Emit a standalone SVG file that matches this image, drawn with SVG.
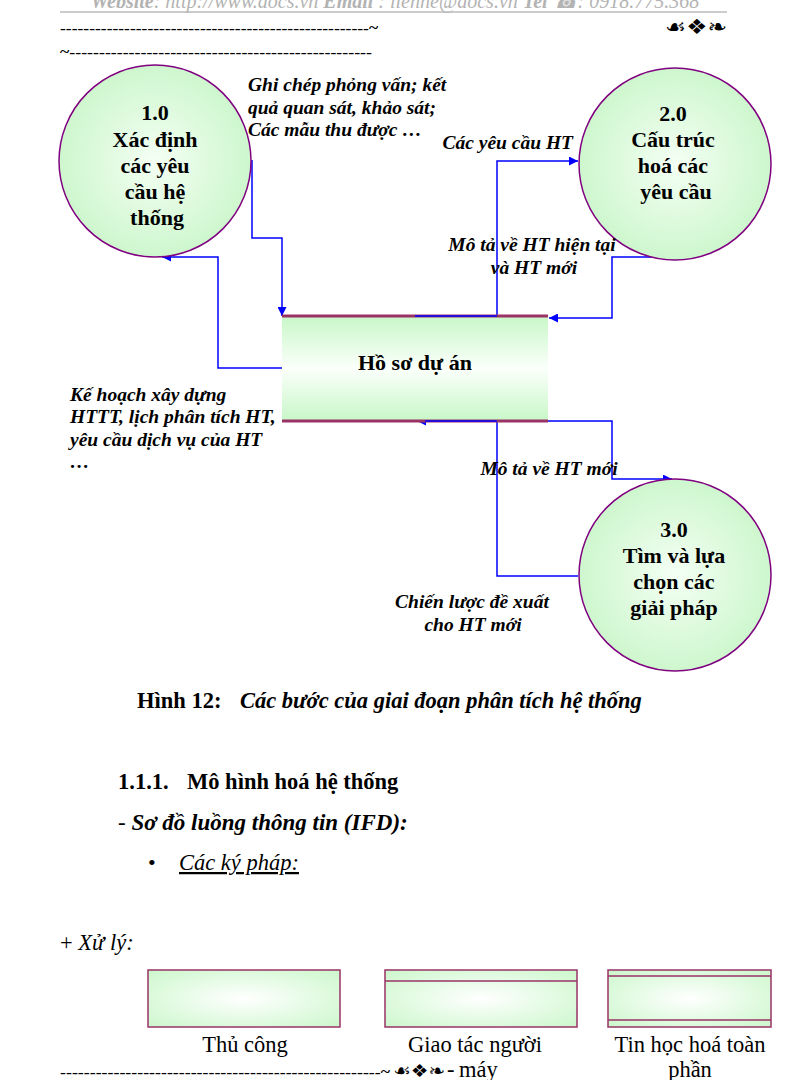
<svg xmlns="http://www.w3.org/2000/svg" width="793" height="1080" viewBox="0 0 793 1080">
<defs>
<radialGradient id="gc" cx="0.5" cy="0.5" r="0.6">
<stop offset="0" stop-color="#f4fff4"/>
<stop offset="1" stop-color="#c6f5c6"/>
</radialGradient>
<linearGradient id="gs" x1="0" y1="0" x2="0" y2="1">
<stop offset="0" stop-color="#c8f7c8"/>
<stop offset="0.5" stop-color="#fbfffb"/>
<stop offset="1" stop-color="#c8f7c8"/>
</linearGradient>
<radialGradient id="gb" cx="0.5" cy="0.5" r="0.7">
<stop offset="0" stop-color="#ffffff"/>
<stop offset="1" stop-color="#ccf7cc"/>
</radialGradient>
<marker id="ah" viewBox="0 0 10 10" refX="10" refY="5" markerWidth="9" markerHeight="9" markerUnits="userSpaceOnUse" orient="auto">
<path d="M0,0 L10,5 L0,10 z" fill="#0000ff"/>
</marker>
<style>
.t{font-family:"Liberation Serif","Times New Roman",serif;fill:#000}
.nb{font-size:22px;font-weight:bold;text-anchor:middle}
.lb{font-size:19.5px;font-weight:bold;font-style:italic}
.circ{fill:url(#gc);stroke:#800080;stroke-width:1.5}
.cn{fill:none;stroke:#0000ff;stroke-width:1.5}
.box{fill:url(#gb);stroke:#993366;stroke-width:1.5}
.rule{stroke:#993366;stroke-width:1.5}
.bt{font-size:22.5px}
</style>
</defs>
<rect width="793" height="1080" fill="#fff"/>

<g id="header">
<text class="t" x="395" y="8" text-anchor="middle" font-size="20" font-style="italic" style="fill:#b3b3b3"><tspan font-weight="bold">Website</tspan>: http://www.docs.vn <tspan font-weight="bold">Email</tspan> : lienhe@docs.vn <tspan font-weight="bold">Tel</tspan> ☎: 0918.775.368</text>
<line x1="60" y1="12" x2="727" y2="12" stroke="#bbbbbb" stroke-width="1.5"/>
<text class="t" x="60" y="33" font-size="14" font-weight="bold" textLength="318" lengthAdjust="spacingAndGlyphs">-----------------------------------------------------~</text>
<text x="727" y="34" text-anchor="end" font-family="DejaVu Sans, sans-serif" font-size="21" font-weight="bold" textLength="62" lengthAdjust="spacingAndGlyphs">☙❖❧</text>
<text class="t" x="60" y="57" font-size="14" font-weight="bold" textLength="312" lengthAdjust="spacingAndGlyphs">~---------------------------------------------------</text>
</g>

<g id="connectors">
<polyline class="cn" points="252,160 252,238 282,238 282,316" marker-end="url(#ah)"/>
<polyline class="cn" points="282,368 218,368 218,257 162,257" marker-end="url(#ah)"/>
<polyline class="cn" points="415,316 497,316 497,161 578,161" marker-end="url(#ah)"/>
<polyline class="cn" points="672,257 612,257 612,318 549,318" marker-end="url(#ah)"/>
<polyline class="cn" points="548,421 612,421 612,479 672,479" marker-end="url(#ah)"/>
<polyline class="cn" points="578,576 497,576 497,421 417,421" marker-end="url(#ah)"/>
</g>

<g id="p1">
<circle class="circ" cx="155" cy="161" r="96"/>
<text class="t nb" x="155" y="120">1.0</text>
<text class="t nb" x="155" y="147">Xác định</text>
<text class="t nb" x="155" y="173">các yêu</text>
<text class="t nb" x="155" y="199">cầu hệ</text>
<text class="t nb" x="157" y="225">thống</text>
</g>

<g id="p2">
<circle class="circ" cx="675" cy="164" r="96"/>
<text class="t nb" x="673" y="121">2.0</text>
<text class="t nb" x="673" y="147">Cấu trúc</text>
<text class="t nb" x="673" y="173">hoá các</text>
<text class="t nb" x="676" y="199">yêu cầu</text>
</g>

<g id="p3">
<circle class="circ" cx="675" cy="575" r="96"/>
<text class="t nb" x="674" y="537">3.0</text>
<text class="t nb" x="674" y="563">Tìm và lựa</text>
<text class="t nb" x="674" y="589">chọn các</text>
<text class="t nb" x="674" y="615">giải pháp</text>
</g>

<g id="store">
<rect x="282" y="316" width="266" height="105" fill="url(#gs)"/>
<line x1="282" y1="316" x2="548" y2="316" stroke="#993366" stroke-width="3"/>
<line x1="282" y1="421" x2="548" y2="421" stroke="#993366" stroke-width="3"/>
<line x1="415" y1="316" x2="497" y2="316" stroke="#0000ff" stroke-width="1.5"/>
<line x1="425" y1="421" x2="497" y2="421" stroke="#0000ff" stroke-width="1.5"/>
<text class="t nb" x="415" y="370">Hồ sơ dự án</text>
</g>

<g id="labels">
<text class="t lb" x="248" y="91">Ghi chép phỏng vấn; kết</text>
<text class="t lb" x="248" y="114">quả quan sát, khảo sát;</text>
<text class="t lb" x="248" y="136">Các mẫu thu được …</text>
<text class="t lb" x="573" y="149" text-anchor="end">Các yêu cầu HT</text>
<text class="t lb" x="532" y="251" text-anchor="middle">Mô tả về HT hiện tại</text>
<text class="t lb" x="534" y="274" text-anchor="middle">và HT mới</text>
<text class="t lb" x="70" y="401">Kế hoạch xây dựng</text>
<text class="t lb" x="70" y="423">HTTT, lịch phân tích HT,</text>
<text class="t lb" x="70" y="446">yêu cầu dịch vụ của HT</text>
<text class="t lb" x="70" y="468">…</text>
<text class="t lb" x="549" y="475" text-anchor="middle">Mô tả về HT mới</text>
<text class="t lb" x="472" y="608" text-anchor="middle">Chiến lược đề xuất</text>
<text class="t lb" x="473" y="631" text-anchor="middle">cho HT mới</text>
</g>

<g id="text-body">
<text class="t" x="137" y="708" font-size="22.5" font-weight="bold">Hình 12:<tspan x="240" font-style="italic">Các bước của giai đoạn phân tích hệ thống</tspan></text>
<text class="t" x="118" y="789" font-size="22.5" font-weight="bold">1.1.1.<tspan x="187">Mô hình hoá hệ thống</tspan></text>
<text class="t" x="118" y="830" font-size="23"><tspan>- </tspan><tspan font-weight="bold" font-style="italic">Sơ đồ luồng thông tin (IFD):</tspan></text>
<text class="t" x="148" y="870" font-size="22">•</text>
<text class="t" x="179" y="870" font-size="22.5" font-style="italic" text-decoration="underline">Các ký pháp:</text>
<text class="t" x="60" y="950" font-size="22.5">+ <tspan font-style="italic">Xử lý:</tspan></text>
</g>

<g id="sym1">
<rect class="box" x="148" y="970" width="192" height="57"/>
<text class="t bt" x="245" y="1052" text-anchor="middle">Thủ công</text>
</g>
<g id="sym2">
<rect class="box" x="385" y="970" width="192" height="57"/>
<line class="rule" x1="385" y1="981" x2="577" y2="981"/>
<text class="t bt" x="475" y="1052" text-anchor="middle">Giao tác người</text>
<text class="t bt" x="459" y="1077">máy</text>
</g>
<g id="sym3">
<rect class="box" x="608" y="970" width="163" height="57"/>
<line class="rule" x1="608" y1="976" x2="771" y2="976"/>
<line class="rule" x1="608" y1="1020" x2="771" y2="1020"/>
<text class="t bt" x="690" y="1052" text-anchor="middle">Tin học hoá toàn</text>
<text class="t bt" x="690" y="1077" text-anchor="middle">phần</text>
</g>

<g id="footer">
<text class="t" x="60" y="1077" font-size="14" font-weight="bold" textLength="330" lengthAdjust="spacingAndGlyphs">------------------------------------------------------~</text>
<text x="393" y="1077" font-family="DejaVu Sans, sans-serif" font-size="18" font-weight="bold" textLength="52" lengthAdjust="spacingAndGlyphs">☙❖❧</text>
<text class="t bt" x="447" y="1077">-</text>
</g>
</svg>
